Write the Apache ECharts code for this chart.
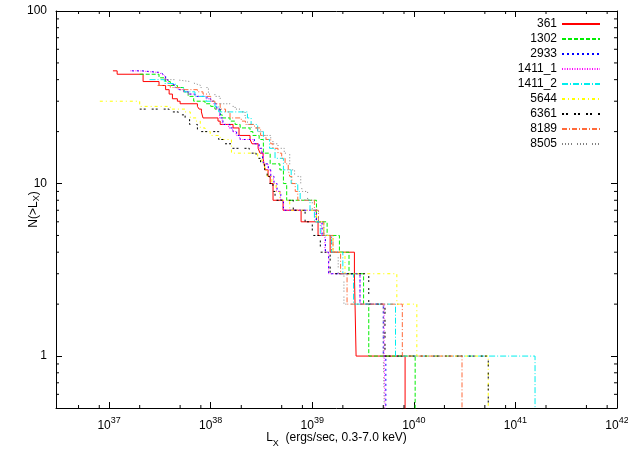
<!DOCTYPE html>
<html><head><meta charset="utf-8">
<script src="https://cdn.jsdelivr.net/npm/echarts@6/dist/echarts.min.js"></script>
<style>html,body{margin:0;padding:0;background:#fff}#c{width:628px;height:451px}</style>
</head><body><div id="c"></div>
<script>
// ---- data (L in erg/s, N = cumulative count) ----
const seriesNames = ['361','1302','2933','1411_1','1411_2','5644','6361','8189','8505'];

const lum361 = [1.09e37,1.2e37,2.16e37,3.1e37,3.6e37,3.9e37,4.2e37,4.7e37,5.0e37,7.4e37,7.7e37,8.1e37,8.4e37,1.18e38,1.24e38,1.66e38,1.9e38,2.44e38,2.55e38,2.93e38,3.06e38,3.28e38,3.43e38,3.67e38,3.85e38,4.11e38,5.16e38,7.76e38,1.14e39,1.5e39,2.6e39,2.7e39,8.2e39];
const cnt361 = [45,43,39,37,35,33,31,30,29,28,27,26,24,23,22,21,19,18,17,16,15,14,12,11,10,8,7,6,5,4,3,1,0.3];

const lum1302 = [2.0e37,3.1e37,3.6e37,4.0e37,4.7e37,5.4e37,6.0e37,6.8e37,8.8e37,1.0e38,1.1e38,1.24e38,1.3e38,1.55e38,1.74e38,1.95e38,2.44e38,2.6e38,3.0e38,3.3e38,3.85e38,4.8e38,5.2e38,5.6e38,1.1e39,1.4e39,1.85e39,2.3e39,3.2e39,3.6e39,1.03e40];
const cnt1302 = [43,41,39,37,36,34,32,30,29,28,27,25,24,23,22,21,20,19,18,15,13,12,10,8,6,5,4,3,2,1,0.3];

const lum2933 = [1.68e37,2.1e37,3.2e37,3.4e37,3.6e37,3.8e37,4.1e37,4.5e37,4.9e37,5.5e37,6.1e37,7.0e37,9.2e37,1.0e38,1.08e38,1.15e38,1.24e38,1.32e38,1.55e38,1.66e38,1.8e38,1.95e38,2.7e38,3.0e38,3.2e38,3.3e38,3.7e38,3.9e38,4.2e38,4.5e38,4.9e38,5.2e38,1.1e39,1.25e39,1.35e39,1.45e39,2.95e39,5.0e39,5.3e39];
const cnt2933 = [45,44,43,42,40,38,37,36,35,34,33,32,31,30,29,27,24,22,21,20,19,18,17,16,15,13,12,11,10,9,8,7,6,5,4,3,2,1,0.3];

const lum1411a = [1.62e37,2.0e37,3.1e37,3.3e37,3.55e37,3.8e37,4.0e37,4.4e37,4.8e37,5.4e37,6.0e37,7.1e37,9.0e37,1.0e38,1.07e38,1.13e38,1.22e38,1.3e38,1.5e38,1.64e38,1.78e38,1.93e38,2.65e38,2.95e38,3.15e38,3.3e38,3.65e38,3.9e38,4.15e38,4.45e38,4.85e38,5.2e38,1.08e39,1.23e39,1.33e39,1.45e39,2.95e39,5.1e39,5.3e39];
const cnt1411a = [45,44,43,42,40,38,37,36,35,34,33,32,31,30,29,27,24,22,21,20,19,18,17,16,15,13,12,11,10,9,8,7,6,5,4,3,2,1,0.3];

const lum1411b = [2.5e37,3.5e37,4.5e37,5.5e37,7.0e37,9.0e37,1.1e38,1.2e38,2.3e38,2.5e38,2.9e38,3.3e38,3.8e38,4.3e38,5.2e38,6.2e38,7.2e38,7.6e38,9.5e38,1.05e39,1.2e39,1.55e39,2.0e39,2.55e39,6.6e39,1.56e41];
const cnt1411b = [40,38,36,34,32,30,28,26,24,22,20,18,16,14,12,10,9,8,7,6,5,4,3,2,1,0.3];

const lum5644 = [8.1e36,2.0e37,4.0e37,5.6e37,6.3e37,7.2e37,7.9e37,8.8e37,9.9e37,1.24e38,1.6e38,2.9e38,3.2e38,3.4e38,3.6e38,4.0e38,4.4e38,4.8e38,6.0e38,1.1e39,1.3e39,1.6e39,2.1e39,6.8e39,1.07e40,5.4e40];
const cnt5644 = [30,28,27,26,24,23,21,20,19,18,15,14,13,12,11,10,9,8,7,6,5,4,3,2,1,0.3];

const lum6361 = [2.0e37,3.9e37,4.8e37,5.6e37,6.2e37,7.4e37,1.2e38,1.35e38,1.6e38,2.4e38,2.8e38,3.1e38,3.4e38,3.6e38,3.8e38,4.1e38,4.3e38,6.5e38,8.5e38,1.0e39,1.2e39,1.5e39,3.6e39,5.2e39,5.4e40];
const cnt6361 = [27,26,25,24,22,20,18,17,16,15,14,13,12,11,10,9,8,7,6,5,4,3,2,1,0.3];

const lum8189 = [3.0e37,4.0e37,5.0e37,7.4e37,8.4e37,9.2e37,1.0e38,1.1e38,1.24e38,1.4e38,1.55e38,2.0e38,2.2e38,2.7e38,3.1e38,3.5e38,3.9e38,4.1e38,4.6e38,5.0e38,5.4e38,5.8e38,6.0e38,6.3e38,6.8e38,7.2e38,1.05e39,1.15e39,1.3e39,1.6e39,1.9e39,2.2e39,7.7e39,2.98e40];
const cnt8189 = [37,36,35,34,33,32,30,29,27,26,24,23,22,21,19,18,17,16,15,14,13,12,11,10,9,8,7,6,5,4,3,2,1,0.3];

const lum8505 = [3.5e37,4.5e37,6.3e37,7.0e37,8.0e37,9.5e37,1.1e38,1.24e38,1.55e38,1.74e38,1.95e38,2.18e38,2.3e38,2.5e38,2.9e38,3.3e38,3.9e38,4.1e38,4.6e38,5.3e38,6.0e38,6.7e38,7.7e38,8.0e38,9.0e38,1.0e39,1.15e39,1.3e39,1.55e39,1.8e39,2.05e39,5.0e39,5.2e39];
const cnt8505 = [40,39,38,37,36,33,32,29,28,27,26,24,22,21,20,19,18,17,16,15,12,11,10,9,8,7,6,5,4,3,2,1,0.3];

const xMinorTicks = [5e36,8e36,2e37,5e37,8e37,2e38,5e38,8e38,2e39,5e39,8e39,2e40,5e40,8e40,2e41,5e41,8e41];
const yMinorTicks = [0.6,0.7,0.8,0.9,2,3,4,5,6,7,8,9,20,30,40,50,60,70,80,90];

const lumArrays = [lum361,lum1302,lum2933,lum1411a,lum1411b,lum5644,lum6361,lum8189,lum8505];
const cntArrays = [cnt361,cnt1302,cnt2933,cnt1411a,cnt1411b,cnt5644,cnt6361,cnt8189,cnt8505];

// ---- styles ----
const colors = ['#ff0000','#00ee00','#0000ff','#ff00ff','#00eeee','#ffff00','#000000','#ff6a3a','#808080'];
const dashes = ['solid',[4,2],[2,3],[1,1.5],[6,2,1,2],[3,3,1,3],[2,2,2,6],[5,2,1,2],[1,2,1,2,1,2,1,5]];

const FONT = 'Liberation Sans, Arial, Helvetica, sans-serif';
const X0 = 3e36, X1 = 1e42, Y0 = 0.5, Y1 = 100;

function isPow10(v){ const e = Math.round(Math.log10(v)); return Math.abs(Math.log10(v) - e) < 1e-6 ? e : null; }

const series = seriesNames.map((name, i) => ({
  name, type: 'line', step: 'end', symbol: 'none', showSymbol: false,
  animation: false, clip: true,
  data: lumArrays[i].map((l, k) => [l, cntArrays[i][k]]),
  lineStyle: { color: colors[i], width: 1, type: dashes[i] },
  itemStyle: { color: colors[i] }
}));

const tickLen = 3;
series.push({
  type: 'custom', silent: true, animation: false, clip: false, z: 5,
  data: xMinorTicks.map(v => [v, 1]),
  renderItem: (params, api) => {
    const v = api.value(0);
    const b = api.coord([v, Y0]), t = api.coord([v, Y1]);
    const st = { stroke: '#000', lineWidth: 1 };
    return { type: 'group', children: [
      { type: 'line', shape: { x1: b[0], y1: b[1], x2: b[0], y2: b[1] - tickLen }, style: st },
      { type: 'line', shape: { x1: t[0], y1: t[1], x2: t[0], y2: t[1] + tickLen }, style: st }
    ]};
  }
});
series.push({
  type: 'custom', silent: true, animation: false, clip: false, z: 5,
  data: yMinorTicks.map(v => [1e38, v]),
  renderItem: (params, api) => {
    const v = api.value(1);
    const l = api.coord([X0, v]), r = api.coord([X1, v]);
    const st = { stroke: '#000', lineWidth: 1 };
    return { type: 'group', children: [
      { type: 'line', shape: { x1: l[0], y1: l[1], x2: l[0] + tickLen, y2: l[1] }, style: st },
      { type: 'line', shape: { x1: r[0], y1: r[1], x2: r[0] - tickLen, y2: r[1] }, style: st }
    ]};
  }
});

const axisLineStyle = { lineStyle: { color: '#000', width: 1 } };
const majorTick = { show: true, inside: true, length: 6, lineStyle: { color: '#000', width: 1 } };

const xLabel = {
  show: true, margin: 8, fontFamily: FONT, color: '#000',
  formatter: v => { const e = isPow10(v); return e === null ? '' : '{b|10}{s|' + e + '}'; },
  rich: {
    b: { fontSize: 12, fontFamily: FONT, color: '#000', lineHeight: 16, verticalAlign: 'bottom' },
    s: { fontSize: 9, fontFamily: FONT, color: '#000', lineHeight: 10, verticalAlign: 'top' }
  }
};

const option = {
  animation: false,
  backgroundColor: '#fff',
  grid: { left: 56, right: 11, top: 11, bottom: 43, containLabel: false, outerBoundsMode: 'none' },
  legend: {
    data: seriesNames, orient: 'vertical', align: 'right',
    right: 27, top: 18, padding: 0,
    itemWidth: 38, itemHeight: 10, itemGap: 3,
    itemStyle: { opacity: 0 },
    textStyle: { fontFamily: FONT, fontSize: 12, color: '#000' },
    selectedMode: false
  },
  xAxis: [
    { type: 'log', logBase: 10, min: X0, max: X1, position: 'bottom',
      axisLine: axisLineStyle, axisTick: majorTick, splitLine: { show: false },
      axisLabel: xLabel,
      name: '{a|L}{s|X}{a|  (ergs/sec, 0.3-7.0 keV)}', nameLocation: 'middle', nameGap: 24, nameMoveOverlap: false,
      nameTextStyle: { fontFamily: FONT, color: '#000',
        rich: { a: { fontSize: 12, fontFamily: FONT, color: '#000', lineHeight: 16, verticalAlign: 'top' },
                s: { fontSize: 9, fontFamily: FONT, color: '#000', lineHeight: 10, verticalAlign: 'bottom', padding: [6,0,0,0] } } } },
    { type: 'log', logBase: 10, min: X0, max: X1, position: 'top',
      axisLine: axisLineStyle, axisTick: majorTick, splitLine: { show: false },
      axisLabel: { show: false } }
  ],
  yAxis: [
    { type: 'log', logBase: 10, min: Y0, max: Y1, position: 'left',
      axisLine: axisLineStyle, axisTick: majorTick, splitLine: { show: false },
      axisLabel: { show: true, margin: 9, fontFamily: FONT, fontSize: 12, color: '#000',
        formatter: v => { const e = isPow10(v); return e === null ? '' : String(Math.round(v)); } },
      name: '{a|N(>L}{s|X}{a|)}', nameLocation: 'middle', nameGap: 14, nameRotate: 90, nameMoveOverlap: false,
      nameTextStyle: { fontFamily: FONT, color: '#000',
        rich: { a: { fontSize: 12, fontFamily: FONT, color: '#000', lineHeight: 16 },
                s: { fontSize: 9, fontFamily: FONT, color: '#000', lineHeight: 10, padding: [6,0,0,0] } } } },
    { type: 'log', logBase: 10, min: Y0, max: Y1, position: 'right',
      axisLine: axisLineStyle, axisTick: majorTick, splitLine: { show: false },
      axisLabel: { show: false } }
  ],
  series
};

const chart = echarts.init(document.getElementById('c'), null, { renderer: 'canvas' });
chart.setOption(option);
</script>
</body></html>
